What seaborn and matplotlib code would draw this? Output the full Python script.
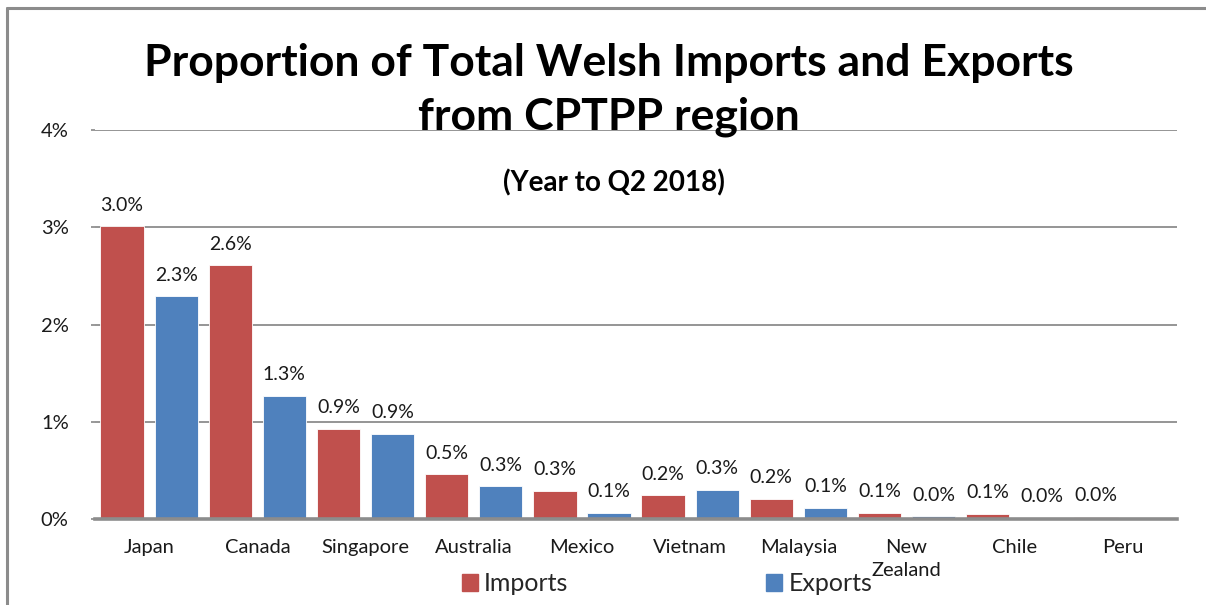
import numpy as np
import pandas as pd
import seaborn as sns
import matplotlib.pyplot as plt
from matplotlib.lines import Line2D

# Données (en %)
pays = ['Japan', 'Canada', 'Singapore', 'Australia', 'Mexico',
        'Vietnam', 'Malaysia', 'New\nZealand', 'Chile', 'Peru']
imports = [3.01, 2.61, 0.93, 0.46, 0.29, 0.243, 0.21, 0.065, 0.055, 0.025]
exports = [2.29, 1.27, 0.876, 0.34, 0.065, 0.30, 0.117, 0.03, 0.015, np.nan]
series = ['Imports', 'Exports']
couleurs = ['#C0504D', '#4F81BD']
yticks = [0, 1, 2, 3, 4]

df = pd.DataFrame({'Pays': pays * 2,
                   'Valeur': imports + exports,
                   'Serie': ['Imports'] * len(pays) + ['Exports'] * len(pays)})

sns.set_theme(style='white')
plt.rcParams['font.family'] = ['Lato', 'DejaVu Sans']

fig = plt.figure(figsize=(12.06, 6.05), dpi=100)
ax = fig.add_axes([0.0788, 0.142, 0.976 - 0.0788, 0.785 - 0.142])

sns.barplot(data=df, x='Pays', y='Valeur', hue='Serie', hue_order=series,
            palette=couleurs, width=1.0, gap=0.2, saturation=1,
            edgecolor='white', linewidth=0.6, ax=ax, legend=False, zorder=3)

# étiquettes de valeurs
for cont in ax.containers:
    for bar in cont:
        h = bar.get_height()
        if np.isnan(h):
            continue
        ax.annotate(f'{h:.1f}%', (bar.get_x() + bar.get_width() / 2, h),
                    xytext=(0, 9), textcoords='offset points',
                    ha='center', va='bottom', fontsize=14, color='#1a1a1a')

gris = '#8c8c8c'
ax.set_xlim(-0.5, len(pays) - 0.5)
ax.set_ylim(0, 4)
ax.set_yticks(yticks)
ax.set_yticklabels([f'{t}%' for t in yticks])
ax.yaxis.grid(True, color=gris, linewidth=1.3, zorder=0)
ax.set_axisbelow(True)
for s in ['left', 'top', 'right']:
    ax.spines[s].set_visible(False)
ax.spines['bottom'].set_color(gris)
ax.spines['bottom'].set_linewidth(2.6)
ax.spines['bottom'].set_zorder(4)
ax.tick_params(axis='y', left=True, length=3, color=gris, pad=16,
               labelsize=14.5, labelcolor='#1a1a1a')
ax.tick_params(axis='x', bottom=False, pad=8, labelsize=14.5,
               labelcolor='#1a1a1a')
for lbl in ax.get_xticklabels():
    lbl.set_linespacing(1.45)
ax.set_xlabel('')
ax.set_ylabel('')

# titres
fig.text(0.505, 0.851, 'Proportion of Total Welsh Imports and Exports\nfrom CPTPP region',
         ha='center', va='center', fontsize=32, fontweight='bold',
         linespacing=1.4, color='black', zorder=5)
fig.text(0.509, 0.698, '(Year to Q2 2018)', ha='center', va='center',
         fontsize=20, fontweight='bold', color='black')

# légende
poignees = [plt.Rectangle((0, 0), 1, 1, color=c) for c in couleurs]
fig.legend(poignees, series, loc='center', bbox_to_anchor=(0.553, 0.035),
           ncol=2, frameon=False, fontsize=18, handlelength=0.65,
           handleheight=0.65, handletextpad=0.25, columnspacing=7.9)

# cadre extérieur
fig.add_artist(Line2D([7 / 1206, 1], [1 - 8 / 605, 1 - 8 / 605],
                      transform=fig.transFigure, color=gris, linewidth=2.2))
fig.add_artist(Line2D([7 / 1206, 7 / 1206], [0, 1 - 8 / 605],
                      transform=fig.transFigure, color=gris, linewidth=2.2))

plt.savefig('out.png', dpi=100)
